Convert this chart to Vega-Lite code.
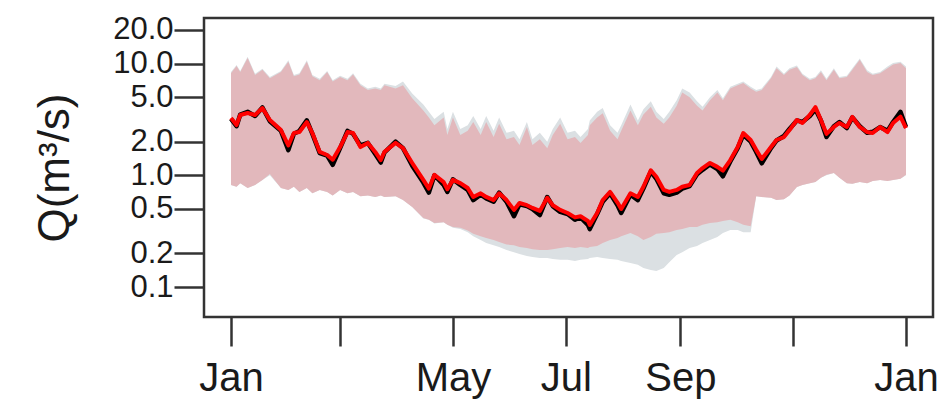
{
  "$schema": "https://vega.github.io/schema/vega-lite/v6.json",
  "width": 729,
  "height": 299,
  "autosize": {"type": "none"},
  "padding": {"left": 204, "top": 18, "right": 18, "bottom": 92},
  "background": "white",
  "config": {
    "font": "Liberation Sans",
    "view": {"stroke": "#333333", "strokeWidth": 2.5}
  },
  "data": {
    "values": [
      {"day": 0, "obs": 3.2, "sim": 3.26, "hi": 8.2, "lo": 0.82, "ghi": 8.4, "glo": 0.82},
      {"day": 3, "obs": 2.75, "sim": 2.82, "hi": 9.5, "lo": 0.79, "ghi": 9.7, "glo": 0.79},
      {"day": 5, "obs": 3.5, "sim": 3.47, "hi": 8.4, "lo": 0.85, "ghi": 8.6, "glo": 0.85},
      {"day": 9, "obs": 3.7, "sim": 3.61, "hi": 11.2, "lo": 0.77, "ghi": 11.5, "glo": 0.77},
      {"day": 13, "obs": 3.4, "sim": 3.47, "hi": 7.9, "lo": 0.82, "ghi": 8.1, "glo": 0.82},
      {"day": 17, "obs": 4.05, "sim": 4.0, "hi": 8.8, "lo": 0.91, "ghi": 9.0, "glo": 0.91},
      {"day": 21, "obs": 3.05, "sim": 3.13, "hi": 7.4, "lo": 1.03, "ghi": 7.6, "glo": 1.0},
      {"day": 27, "obs": 2.5, "sim": 2.54, "hi": 8.4, "lo": 0.77, "ghi": 8.6, "glo": 0.77},
      {"day": 31, "obs": 1.68, "sim": 1.85, "hi": 10.4, "lo": 0.74, "ghi": 10.7, "glo": 0.74},
      {"day": 34, "obs": 2.35, "sim": 2.39, "hi": 7.7, "lo": 0.79, "ghi": 7.9, "glo": 0.79},
      {"day": 37, "obs": 2.5, "sim": 2.44, "hi": 8.0, "lo": 0.71, "ghi": 8.2, "glo": 0.71},
      {"day": 41, "obs": 3.1, "sim": 3.0, "hi": 10.4, "lo": 0.77, "ghi": 10.7, "glo": 0.77},
      {"day": 44, "obs": 2.35, "sim": 2.39, "hi": 7.7, "lo": 0.69, "ghi": 7.9, "glo": 0.69},
      {"day": 48, "obs": 1.58, "sim": 1.62, "hi": 7.1, "lo": 0.74, "ghi": 7.3, "glo": 0.74},
      {"day": 52, "obs": 1.5, "sim": 1.52, "hi": 8.4, "lo": 0.71, "ghi": 8.6, "glo": 0.71},
      {"day": 55, "obs": 1.24, "sim": 1.38, "hi": 6.9, "lo": 0.66, "ghi": 7.1, "glo": 0.66},
      {"day": 59, "obs": 1.75, "sim": 1.79, "hi": 7.6, "lo": 0.74, "ghi": 7.8, "glo": 0.74},
      {"day": 63, "obs": 2.5, "sim": 2.44, "hi": 7.1, "lo": 0.69, "ghi": 7.3, "glo": 0.69},
      {"day": 66, "obs": 2.35, "sim": 2.39, "hi": 8.0, "lo": 0.71, "ghi": 8.2, "glo": 0.71},
      {"day": 70, "obs": 1.85, "sim": 1.79, "hi": 6.4, "lo": 0.65, "ghi": 6.6, "glo": 0.65},
      {"day": 74, "obs": 1.95, "sim": 1.95, "hi": 5.8, "lo": 0.66, "ghi": 6.0, "glo": 0.66},
      {"day": 78, "obs": 1.55, "sim": 1.62, "hi": 6.0, "lo": 0.64, "ghi": 6.2, "glo": 0.64},
      {"day": 81, "obs": 1.3, "sim": 1.37, "hi": 5.8, "lo": 0.66, "ghi": 6.0, "glo": 0.66},
      {"day": 83, "obs": 1.6, "sim": 1.62, "hi": 6.4, "lo": 0.64, "ghi": 6.6, "glo": 0.64},
      {"day": 89, "obs": 2.0, "sim": 1.95, "hi": 6.0, "lo": 0.65, "ghi": 6.3, "glo": 0.65},
      {"day": 93, "obs": 1.75, "sim": 1.75, "hi": 6.4, "lo": 0.6, "ghi": 6.9, "glo": 0.6},
      {"day": 98, "obs": 1.22, "sim": 1.29, "hi": 4.9, "lo": 0.52, "ghi": 5.4, "glo": 0.52},
      {"day": 104, "obs": 0.86, "sim": 0.91, "hi": 3.8, "lo": 0.415, "ghi": 4.3, "glo": 0.41},
      {"day": 107, "obs": 0.7, "sim": 0.76, "hi": 3.3, "lo": 0.4, "ghi": 3.7, "glo": 0.4},
      {"day": 110, "obs": 1.0, "sim": 1.01, "hi": 2.8, "lo": 0.374, "ghi": 3.2, "glo": 0.37},
      {"day": 115, "obs": 0.82, "sim": 0.87, "hi": 3.3, "lo": 0.38, "ghi": 3.7, "glo": 0.38},
      {"day": 117, "obs": 0.71, "sim": 0.75, "hi": 2.3, "lo": 0.36, "ghi": 2.6, "glo": 0.36},
      {"day": 120, "obs": 0.92, "sim": 0.91, "hi": 3.3, "lo": 0.345, "ghi": 3.7, "glo": 0.34},
      {"day": 124, "obs": 0.82, "sim": 0.85, "hi": 2.3, "lo": 0.34, "ghi": 2.6, "glo": 0.33},
      {"day": 128, "obs": 0.74, "sim": 0.77, "hi": 2.5, "lo": 0.32, "ghi": 2.8, "glo": 0.31},
      {"day": 131, "obs": 0.6, "sim": 0.64, "hi": 3.0, "lo": 0.3, "ghi": 3.4, "glo": 0.285},
      {"day": 135, "obs": 0.67, "sim": 0.69, "hi": 2.3, "lo": 0.285, "ghi": 2.6, "glo": 0.263},
      {"day": 138, "obs": 0.62, "sim": 0.64, "hi": 3.0, "lo": 0.275, "ghi": 3.4, "glo": 0.248},
      {"day": 142, "obs": 0.58, "sim": 0.6, "hi": 2.2, "lo": 0.263, "ghi": 2.5, "glo": 0.237},
      {"day": 145, "obs": 0.7, "sim": 0.69, "hi": 2.9, "lo": 0.253, "ghi": 3.3, "glo": 0.228},
      {"day": 149, "obs": 0.58, "sim": 0.6, "hi": 2.1, "lo": 0.24, "ghi": 2.4, "glo": 0.214},
      {"day": 153, "obs": 0.43, "sim": 0.49, "hi": 2.2, "lo": 0.237, "ghi": 2.5, "glo": 0.205},
      {"day": 156, "obs": 0.55, "sim": 0.565, "hi": 1.87, "lo": 0.228, "ghi": 2.1, "glo": 0.197},
      {"day": 160, "obs": 0.53, "sim": 0.54, "hi": 2.7, "lo": 0.223, "ghi": 3.0, "glo": 0.19},
      {"day": 163, "obs": 0.5, "sim": 0.51, "hi": 1.87, "lo": 0.218, "ghi": 2.1, "glo": 0.186},
      {"day": 167, "obs": 0.44, "sim": 0.48, "hi": 2.1, "lo": 0.214, "ghi": 2.4, "glo": 0.182},
      {"day": 171, "obs": 0.64, "sim": 0.63, "hi": 1.75, "lo": 0.214, "ghi": 2.0, "glo": 0.182},
      {"day": 174, "obs": 0.53, "sim": 0.54, "hi": 2.3, "lo": 0.218, "ghi": 2.6, "glo": 0.178},
      {"day": 178, "obs": 0.47, "sim": 0.49, "hi": 2.9, "lo": 0.223, "ghi": 3.3, "glo": 0.175},
      {"day": 182, "obs": 0.45, "sim": 0.46, "hi": 2.1, "lo": 0.228, "ghi": 2.4, "glo": 0.175},
      {"day": 186, "obs": 0.4, "sim": 0.42, "hi": 2.2, "lo": 0.223, "ghi": 2.5, "glo": 0.171},
      {"day": 189, "obs": 0.42, "sim": 0.43, "hi": 1.95, "lo": 0.228, "ghi": 2.2, "glo": 0.175},
      {"day": 193, "obs": 0.36, "sim": 0.39, "hi": 2.3, "lo": 0.223, "ghi": 2.6, "glo": 0.178},
      {"day": 194, "obs": 0.33, "sim": 0.36, "hi": 2.8, "lo": 0.228, "ghi": 3.1, "glo": 0.182},
      {"day": 198, "obs": 0.45, "sim": 0.46, "hi": 3.3, "lo": 0.233, "ghi": 3.7, "glo": 0.186},
      {"day": 201, "obs": 0.58, "sim": 0.6, "hi": 3.6, "lo": 0.248, "ghi": 4.0, "glo": 0.182},
      {"day": 205, "obs": 0.69, "sim": 0.71, "hi": 2.5, "lo": 0.263, "ghi": 2.8, "glo": 0.178},
      {"day": 209, "obs": 0.54, "sim": 0.57, "hi": 2.1, "lo": 0.275, "ghi": 2.4, "glo": 0.175},
      {"day": 211, "obs": 0.46, "sim": 0.5, "hi": 2.5, "lo": 0.285, "ghi": 2.8, "glo": 0.171},
      {"day": 216, "obs": 0.67, "sim": 0.69, "hi": 3.8, "lo": 0.304, "ghi": 4.3, "glo": 0.164},
      {"day": 220, "obs": 0.6, "sim": 0.64, "hi": 2.8, "lo": 0.285, "ghi": 3.1, "glo": 0.158},
      {"day": 223, "obs": 0.76, "sim": 0.79, "hi": 3.5, "lo": 0.263, "ghi": 3.9, "glo": 0.148},
      {"day": 227, "obs": 1.08, "sim": 1.11, "hi": 4.1, "lo": 0.28, "ghi": 4.6, "glo": 0.142},
      {"day": 230, "obs": 0.93, "sim": 0.97, "hi": 3.3, "lo": 0.3, "ghi": 3.7, "glo": 0.139},
      {"day": 234, "obs": 0.69, "sim": 0.74, "hi": 2.9, "lo": 0.304, "ghi": 3.2, "glo": 0.148},
      {"day": 237, "obs": 0.67, "sim": 0.71, "hi": 3.3, "lo": 0.31, "ghi": 3.7, "glo": 0.167},
      {"day": 241, "obs": 0.7, "sim": 0.74, "hi": 4.2, "lo": 0.324, "ghi": 4.7, "glo": 0.193},
      {"day": 244, "obs": 0.76, "sim": 0.79, "hi": 5.5, "lo": 0.33, "ghi": 6.0, "glo": 0.205},
      {"day": 248, "obs": 0.8, "sim": 0.82, "hi": 5.0, "lo": 0.345, "ghi": 5.5, "glo": 0.223},
      {"day": 252, "obs": 1.02, "sim": 1.05, "hi": 4.2, "lo": 0.345, "ghi": 4.6, "glo": 0.233},
      {"day": 255, "obs": 1.12, "sim": 1.16, "hi": 3.8, "lo": 0.36, "ghi": 4.1, "glo": 0.248},
      {"day": 259, "obs": 1.25, "sim": 1.29, "hi": 4.7, "lo": 0.374, "ghi": 5.0, "glo": 0.263},
      {"day": 263, "obs": 1.14, "sim": 1.19, "hi": 5.5, "lo": 0.38, "ghi": 5.8, "glo": 0.28},
      {"day": 266, "obs": 0.98, "sim": 1.1, "hi": 4.7, "lo": 0.39, "ghi": 4.9, "glo": 0.304},
      {"day": 270, "obs": 1.33, "sim": 1.37, "hi": 6.0, "lo": 0.4, "ghi": 6.2, "glo": 0.324},
      {"day": 274, "obs": 1.75, "sim": 1.79, "hi": 6.4, "lo": 0.38, "ghi": 6.6, "glo": 0.324},
      {"day": 277, "obs": 2.3, "sim": 2.39, "hi": 6.7, "lo": 0.36, "ghi": 6.9, "glo": 0.31},
      {"day": 281, "obs": 2.0, "sim": 2.07, "hi": 6.0, "lo": 0.35, "ghi": 6.2, "glo": 0.31},
      {"day": 284, "obs": 1.62, "sim": 1.69, "hi": 5.6, "lo": 0.65, "ghi": 5.8, "glo": 0.65},
      {"day": 287, "obs": 1.28, "sim": 1.4, "hi": 5.8, "lo": 0.64, "ghi": 6.0, "glo": 0.64},
      {"day": 292, "obs": 1.75, "sim": 1.79, "hi": 7.4, "lo": 0.63, "ghi": 7.6, "glo": 0.63},
      {"day": 295, "obs": 2.05, "sim": 2.07, "hi": 9.1, "lo": 0.6, "ghi": 9.4, "glo": 0.6},
      {"day": 299, "obs": 2.25, "sim": 2.2, "hi": 7.9, "lo": 0.61, "ghi": 8.1, "glo": 0.61},
      {"day": 302, "obs": 2.6, "sim": 2.54, "hi": 8.8, "lo": 0.66, "ghi": 9.1, "glo": 0.66},
      {"day": 306, "obs": 3.1, "sim": 3.13, "hi": 9.3, "lo": 0.785, "ghi": 9.6, "glo": 0.785},
      {"day": 309, "obs": 3.0, "sim": 2.94, "hi": 7.9, "lo": 0.82, "ghi": 8.1, "glo": 0.82},
      {"day": 313, "obs": 3.4, "sim": 3.47, "hi": 7.1, "lo": 0.85, "ghi": 7.3, "glo": 0.85},
      {"day": 316, "obs": 3.9, "sim": 4.08, "hi": 7.4, "lo": 0.87, "ghi": 7.6, "glo": 0.87},
      {"day": 319, "obs": 3.1, "sim": 3.13, "hi": 8.4, "lo": 0.95, "ghi": 8.7, "glo": 0.95},
      {"day": 322, "obs": 2.2, "sim": 2.35, "hi": 7.1, "lo": 1.01, "ghi": 7.3, "glo": 1.0},
      {"day": 326, "obs": 2.75, "sim": 2.71, "hi": 8.8, "lo": 1.05, "ghi": 9.1, "glo": 1.05},
      {"day": 329, "obs": 3.0, "sim": 2.94, "hi": 7.4, "lo": 0.95, "ghi": 7.6, "glo": 0.95},
      {"day": 333, "obs": 2.65, "sim": 2.71, "hi": 7.6, "lo": 0.85, "ghi": 7.8, "glo": 0.85},
      {"day": 336, "obs": 3.3, "sim": 3.33, "hi": 8.8, "lo": 0.84, "ghi": 9.1, "glo": 0.84},
      {"day": 340, "obs": 2.75, "sim": 2.71, "hi": 10.8, "lo": 0.87, "ghi": 11.1, "glo": 0.87},
      {"day": 344, "obs": 2.4, "sim": 2.44, "hi": 8.4, "lo": 0.85, "ghi": 8.7, "glo": 0.85},
      {"day": 347, "obs": 2.45, "sim": 2.39, "hi": 7.9, "lo": 0.89, "ghi": 8.1, "glo": 0.89},
      {"day": 351, "obs": 2.7, "sim": 2.71, "hi": 8.2, "lo": 0.91, "ghi": 8.4, "glo": 0.91},
      {"day": 355, "obs": 2.5, "sim": 2.44, "hi": 9.1, "lo": 0.89, "ghi": 9.4, "glo": 0.89},
      {"day": 358, "obs": 3.0, "sim": 2.94, "hi": 9.8, "lo": 0.91, "ghi": 10.1, "glo": 0.91},
      {"day": 362, "obs": 3.7, "sim": 3.35, "hi": 10.1, "lo": 0.93, "ghi": 10.4, "glo": 0.93},
      {"day": 365, "obs": 2.7, "sim": 2.65, "hi": 9.1, "lo": 1.01, "ghi": 9.4, "glo": 1.0}
    ]
  },
  "encoding": {
    "x": {
      "field": "day",
      "type": "quantitative",
      "scale": {"domain": [-14.6, 379.6], "nice": false, "zero": false},
      "axis": {
        "title": null,
        "values": [0, 59, 120, 181, 243, 304, 365],
        "labelExpr": "datum.value == 0 || datum.value == 365 ? 'Jan' : datum.value == 120 ? 'May' : datum.value == 181 ? 'Jul' : datum.value == 243 ? 'Sep' : ''",
        "domain": false,
        "grid": false,
        "tickSize": 29,
        "tickWidth": 2.5,
        "tickColor": "#333333",
        "labelFontSize": 40,
        "labelColor": "#1a1a1a",
        "labelPadding": 12,
        "labelFlush": false,
        "labelOverlap": false
      }
    }
  },
  "layer": [
    {
      "mark": {"type": "area", "color": "#dbe0e3", "opacity": 1},
      "encoding": {
        "y": {
          "field": "ghi",
          "type": "quantitative",
          "title": "Q(m³/s)",
          "scale": {"type": "log", "domain": [0.0539, 25.6], "nice": false},
          "axis": {
            "values": [0.1, 0.2, 0.5, 1, 2, 5, 10, 20],
            "format": ".1f",
            "domain": false,
            "grid": false,
            "tickSize": 30,
            "tickWidth": 2.5,
            "tickColor": "#333333",
            "labelFontSize": 31,
            "labelColor": "#1a1a1a",
            "labelPadding": 1,
            "labelOverlap": false,
            "labelBound": false,
            "titleFontSize": 44,
            "titleFontWeight": "normal",
            "titleColor": "#1a1a1a",
            "titleX": -149,
            "titleY": 149.5,
            "titleBaseline": "middle",
            "titleAlign": "center"
          }
        },
        "y2": {"field": "glo"}
      }
    },
    {
      "mark": {"type": "area", "color": "#e2b8bc", "opacity": 1},
      "encoding": {
        "y": {"field": "hi", "type": "quantitative", "title": "Q(m³/s)"},
        "y2": {"field": "lo"}
      }
    },
    {
      "mark": {"type": "line", "color": "#000000", "strokeWidth": 4.5, "strokeJoin": "round"},
      "encoding": {"y": {"field": "obs", "type": "quantitative", "title": "Q(m³/s)"}}
    },
    {
      "mark": {"type": "line", "color": "#ff0000", "strokeWidth": 4, "strokeJoin": "round"},
      "encoding": {"y": {"field": "sim", "type": "quantitative", "title": "Q(m³/s)"}}
    }
  ]
}
